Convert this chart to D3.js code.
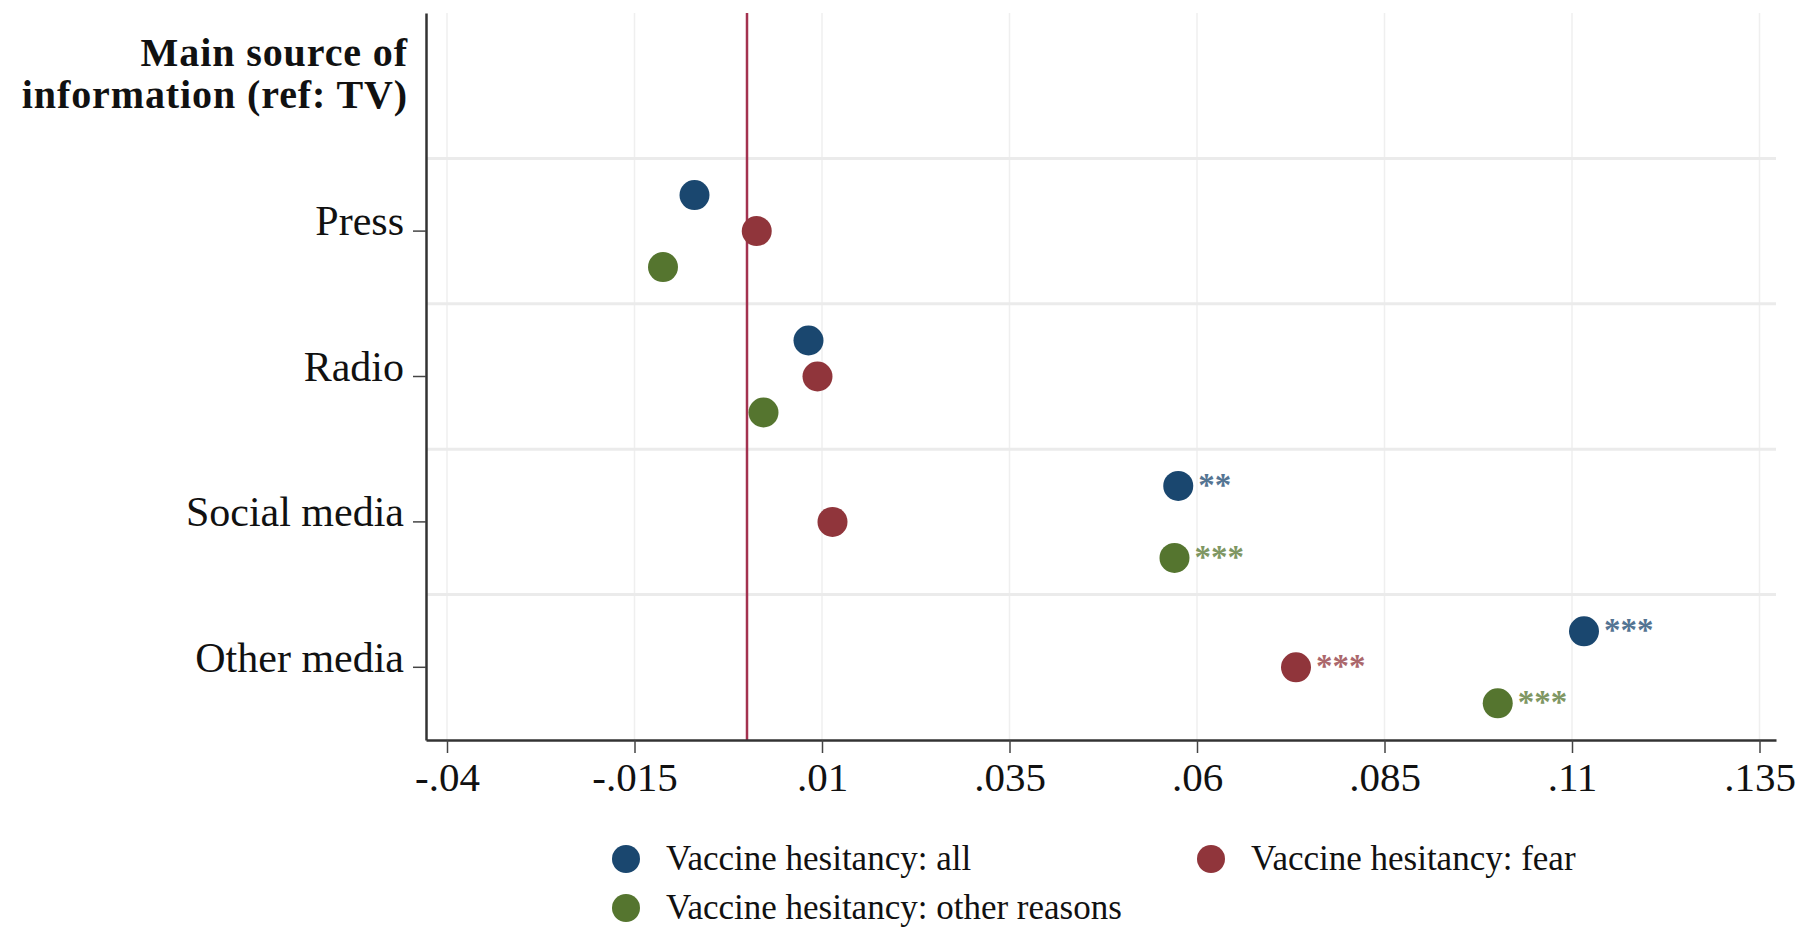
<!DOCTYPE html>
<html>
<head>
<meta charset="utf-8">
<script src="https://cdn.jsdelivr.net/npm/d3@7/dist/d3.min.js"></script>
<style>
  html, body { margin: 0; padding: 0; background: #fff; }
  svg { display: block; font-family: "Liberation Serif", "Times New Roman", serif; }
</style>
</head>
<body>
<svg id="chart" width="1799" height="927"></svg>
<script>
// ---- Data ----
const headerLabel = ["Main source of", "information (ref: TV)"];
const categories = ["Press", "Radio", "Social media", "Other media"];
const seriesNames = ["Vaccine hesitancy: all", "Vaccine hesitancy: fear", "Vaccine hesitancy: other reasons"];
const seriesColors = ["#1a476f", "#90353b", "#55752f"];
const allVals   = [-0.0070, 0.0082, 0.0575, 0.1116];
const fearVals  = [ 0.0013, 0.0094, 0.0114, 0.0732];
const otherVals = [-0.0112, 0.0022, 0.0570, 0.1001];
const allStars   = ["", "", "**", "***"];
const fearStars  = ["", "", "", "***"];
const otherStars = ["", "", "***", "***"];
const xTicks = [-0.04, -0.015, 0.01, 0.035, 0.06, 0.085, 0.11, 0.135];
const xTickLabels = ["-.04", "-.015", ".01", ".035", ".06", ".085", ".11", ".135"];
const refLine = 0;

const seriesVals = [allVals, fearVals, otherVals];
const seriesStars = [allStars, fearStars, otherStars];

// ---- Layout ----
const svg = d3.select("#chart");
const mLeft = 426, mRight = 1776, mTop = 13, mBottom = 740;

const x = d3.scaleLinear().domain([-0.0428, 0.1372]).range([mLeft, mRight]);
const y = d3.scaleBand().domain(["__header__", ...categories]).range([mTop, mBottom]).padding(0);
const off = d3.scalePoint().domain(seriesNames).range([-36, 36]);

// gridlines
const grid = svg.append("g");
grid.selectAll("line.v").data(xTicks).enter().append("line")
  .attr("x1", d => x(d)).attr("x2", d => x(d))
  .attr("y1", mTop).attr("y2", mBottom)
  .attr("stroke", "#efefef").attr("stroke-width", 1.5);
grid.selectAll("line.h").data(categories).enter().append("line")
  .attr("x1", mLeft).attr("x2", mRight)
  .attr("y1", d => y(d)).attr("y2", d => y(d))
  .attr("stroke", "#ebebeb").attr("stroke-width", 3);

// reference line
svg.append("line")
  .attr("x1", x(refLine)).attr("x2", x(refLine))
  .attr("y1", mTop).attr("y2", mBottom)
  .attr("stroke", "#a3324f").attr("stroke-width", 2.5);

// x axis
const xAxis = d3.axisBottom(x).tickValues(xTicks)
  .tickFormat((d, i) => xTickLabels[i]).tickSize(13).tickSizeOuter(0).tickPadding(9);
const gx = svg.append("g").attr("transform", `translate(0,${mBottom})`).call(xAxis);
gx.select(".domain").attr("stroke", "#333").attr("stroke-width", 2.5);
gx.selectAll(".tick line").attr("stroke", "#444").attr("stroke-width", 1.5);
gx.selectAll(".tick text").attr("font-size", 41).attr("fill", "#111")
  .attr("font-family", "Liberation Serif");

// y axis
const yAxis = d3.axisLeft(y).tickValues(categories).tickSize(13).tickSizeOuter(0).tickPadding(9);
const gy = svg.append("g").attr("transform", `translate(${mLeft},0)`).call(yAxis);
gy.select(".domain").attr("stroke", "#333").attr("stroke-width", 2.5);
gy.selectAll(".tick line").attr("stroke", "#444").attr("stroke-width", 1.5);
gy.selectAll(".tick text").attr("font-size", 42).attr("fill", "#111")
  .attr("font-family", "Liberation Serif").attr("dy", "0.1em");

// header label
svg.append("text")
  .attr("text-anchor", "end").attr("font-weight", "bold").attr("font-size", 40)
  .attr("letter-spacing", 0.9)
  .attr("fill", "#111")
  .selectAll("tspan").data(headerLabel).enter().append("tspan")
  .attr("x", 408).attr("y", (d, i) => 66 + i * 42).text(d => d);

// points
const pts = [];
seriesNames.forEach((s, si) => {
  categories.forEach((c, ci) => {
    pts.push({ s, si, c, v: seriesVals[si][ci], star: seriesStars[si][ci] });
  });
});
const gp = svg.append("g");
gp.selectAll("circle").data(pts).enter().append("circle")
  .attr("cx", d => x(d.v))
  .attr("cy", d => y(d.c) + y.bandwidth() / 2 + off(d.s))
  .attr("r", 15)
  .attr("fill", d => seriesColors[d.si]);
gp.selectAll("text").data(pts.filter(d => d.star)).enter().append("text")
  .attr("x", d => x(d.v) + 20)
  .attr("y", d => y(d.c) + y.bandwidth() / 2 + off(d.s) + 10)
  .attr("font-size", 33).attr("font-weight", "bold")
  .attr("fill", d => seriesColors[d.si]).attr("opacity", 0.75)
  .text(d => d.star);

// legend
const legendPos = [[626, 859], [1211, 859], [626, 908]];
const gl = svg.append("g");
seriesNames.forEach((s, i) => {
  const [lx, ly] = legendPos[i];
  gl.append("circle").attr("cx", lx).attr("cy", ly).attr("r", 14).attr("fill", seriesColors[i]);
  gl.append("text").attr("x", lx + 40).attr("y", ly + 11)
    .attr("font-size", 35).attr("fill", "#111").text(s);
});
</script>
</body>
</html>
